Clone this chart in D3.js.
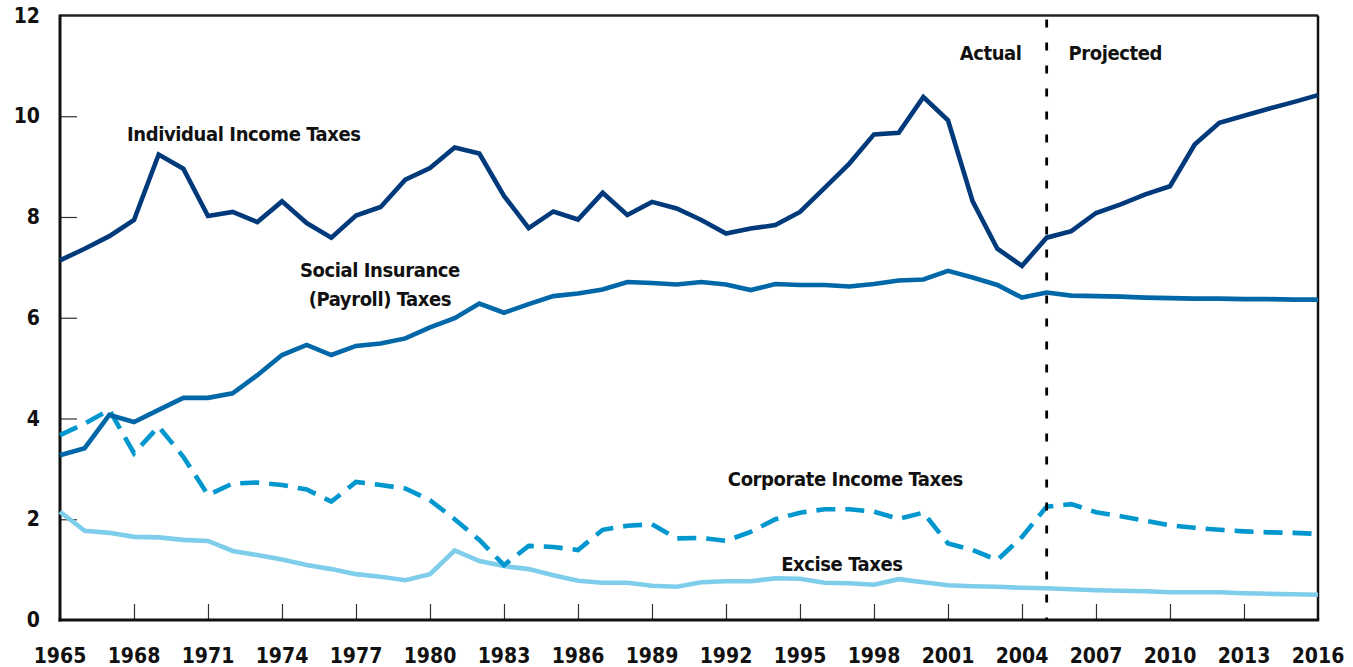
<!DOCTYPE html>
<html>
<head>
<meta charset="utf-8">
<script src="https://cdn.jsdelivr.net/npm/d3@7"></script>
<style>
  html, body { margin: 0; padding: 0; background: #fff; }
  svg { display: block; }
  text { font-family: "Liberation Sans Narrow", "DejaVu Sans Condensed", "Arial Narrow", "Liberation Sans", sans-serif; font-weight: bold; fill: #111; }
  .series-label { font-size: 20px; letter-spacing: -0.4px; }
</style>
</head>
<body>
<svg id="chart" width="1353" height="667"></svg>
<script>
// Federal revenues by source, percentage of GDP
const years = d3.range(1965, 2017);

const individualIncome = [
  7.14, 7.37, 7.62, 7.94, 9.24, 8.96, 8.02, 8.10, 7.90, 8.31,
  7.88, 7.59, 8.03, 8.20, 8.74, 8.97, 9.38, 9.26, 8.42, 7.78,
  8.11, 7.95, 8.48, 8.04, 8.30, 8.17, 7.94, 7.67, 7.77, 7.84,
  8.10, 8.58, 9.06, 9.64, 9.67, 10.38, 9.92, 8.31, 7.37, 7.03,
  7.59, 7.72, 8.08, 8.25, 8.45, 8.61, 9.44, 9.87, 10.01, 10.15,
  10.28, 10.42
];

const socialInsurance = [
  3.27, 3.41, 4.07, 3.93, 4.17, 4.41, 4.41, 4.50, 4.86, 5.26,
  5.46, 5.26, 5.44, 5.49, 5.59, 5.81, 5.99, 6.28, 6.10, 6.27,
  6.43, 6.48, 6.56, 6.71, 6.69, 6.66, 6.71, 6.66, 6.55, 6.67,
  6.65, 6.65, 6.62, 6.67, 6.74, 6.76, 6.93, 6.80, 6.65, 6.40,
  6.50, 6.44, 6.43, 6.42, 6.40, 6.39, 6.38, 6.38, 6.37, 6.37,
  6.36, 6.36
];

const corporateIncome = [
  3.67, 3.90, 4.17, 3.31, 3.84, 3.24, 2.48, 2.71, 2.73, 2.68,
  2.59, 2.35, 2.74, 2.68, 2.61, 2.38, 2.00, 1.59, 1.09, 1.47,
  1.45, 1.39, 1.79, 1.87, 1.90, 1.62, 1.63, 1.57, 1.75, 2.00,
  2.13, 2.20, 2.20, 2.15, 2.01, 2.13, 1.52, 1.39, 1.19, 1.65,
  2.25, 2.30, 2.14, 2.06, 1.97, 1.88, 1.83, 1.79, 1.76, 1.74,
  1.73, 1.71
];

const exciseTaxes = [
  2.15, 1.77, 1.73, 1.65, 1.64, 1.59, 1.57, 1.37, 1.29, 1.20,
  1.09, 1.01, 0.91, 0.86, 0.79, 0.91, 1.38, 1.17, 1.07, 1.01,
  0.89, 0.78, 0.74, 0.74, 0.68, 0.66, 0.75, 0.77, 0.77, 0.83,
  0.82, 0.74, 0.73, 0.70, 0.81, 0.75, 0.69, 0.67, 0.66, 0.64,
  0.63, 0.61, 0.59, 0.58, 0.57, 0.55, 0.55, 0.55, 0.53, 0.52,
  0.51, 0.50
];

const xTickYears = d3.range(1965, 2017, 3);
const yTickValues = [0, 2, 4, 6, 8, 10, 12];
const lastActualYear = 2005;

const seriesNames = ["Excise Taxes", "Corporate Income Taxes", "Social Insurance (Payroll) Taxes", "Individual Income Taxes"];

const svg = d3.select("#chart");
const margin = { top: 15.5, right: 35, bottom: 47, left: 60 };
const W = 1353, H = 667;

const x = d3.scaleLinear().domain([1965, 2016]).range([margin.left, W - margin.right]);
const y = d3.scaleLinear().domain([0, 12]).range([H - margin.bottom, margin.top]);

// inner tick marks on the x axis
const xAxis = d3.axisTop(x)
  .tickValues(xTickYears.filter(d => d > 1965 && d < 2016))
  .tickSize(16).tickFormat("");
svg.append("g")
  .attr("transform", `translate(0,${y(0)})`)
  .call(xAxis)
  .call(g => g.select(".domain").remove())
  .call(g => g.selectAll(".tick line").attr("stroke", "#333").attr("stroke-width", 1.2));

// inner tick marks on the y axis
const yAxis = d3.axisRight(y)
  .tickValues(yTickValues.filter(d => d > 0 && d < 12))
  .tickSize(17).tickFormat("");
svg.append("g")
  .attr("transform", `translate(${x(1965)},0)`)
  .call(yAxis)
  .call(g => g.select(".domain").remove())
  .call(g => g.selectAll(".tick line").attr("stroke", "#333").attr("stroke-width", 1.2));

// tick labels
svg.append("g").selectAll("text")
  .data(xTickYears)
  .join("text")
  .attr("x", d => x(d))
  .attr("y", y(0) + 43)
  .attr("text-anchor", "middle")
  .style("font-size", "21px")
  .text(d => d);

svg.append("g").selectAll("text")
  .data(yTickValues)
  .join("text")
  .attr("x", x(1965) - 20)
  .attr("y", d => y(d) + 7)
  .attr("text-anchor", "end")
  .style("font-size", "21px")
  .text(d => d);

// frame
svg.append("line")
  .attr("x1", x(1965)).attr("x2", x(2016))
  .attr("y1", y(12)).attr("y2", y(12))
  .attr("stroke", "#222").attr("stroke-width", 2.5);
svg.append("line")
  .attr("x1", x(2016)).attr("x2", x(2016))
  .attr("y1", y(12)).attr("y2", y(0))
  .attr("stroke", "#111").attr("stroke-width", 2.5);
svg.append("line")
  .attr("x1", x(1965)).attr("x2", x(1965))
  .attr("y1", y(12) - 1).attr("y2", y(0) + 1.5)
  .attr("stroke", "#111").attr("stroke-width", 3);
svg.append("line")
  .attr("x1", x(1965) - 1.5).attr("x2", x(2016) + 1.2)
  .attr("y1", y(0)).attr("y2", y(0))
  .attr("stroke", "#111").attr("stroke-width", 3);

// series lines
const line = d3.line().x((d, i) => x(years[i])).y(d => y(d));

const series = [
  { name: seriesNames[0], values: exciseTaxes, color: "#7ecdeb", dash: null },
  { name: seriesNames[1], values: corporateIncome, color: "#0097cf", dash: "19,10" },
  { name: seriesNames[2], values: socialInsurance, color: "#0067a8", dash: null },
  { name: seriesNames[3], values: individualIncome, color: "#003a7b", dash: null }
];

svg.append("g").selectAll("path")
  .data(series)
  .join("path")
  .attr("d", d => line(d.values))
  .attr("fill", "none")
  .attr("stroke", d => d.color)
  .attr("stroke-width", 4.6)
  .attr("stroke-dasharray", d => d.dash);

// actual / projected divider
svg.append("line")
  .attr("x1", x(lastActualYear)).attr("x2", x(lastActualYear))
  .attr("y1", y(12)).attr("y2", y(0))
  .attr("stroke", "#000").attr("stroke-width", 2.8)
  .attr("stroke-dasharray", "8,15")
  .attr("stroke-dashoffset", -4);

// labels
const addLabel = (text, year, py, anchor) =>
  svg.append("text")
    .attr("class", "series-label")
    .attr("x", x(year)).attr("y", py)
    .attr("text-anchor", anchor)
    .text(text);

addLabel("Actual", 2002.73, 60, "middle");
addLabel("Projected", 2007.78, 60, "middle");
addLabel("Individual Income Taxes", 1967.72, 141, "start");
addLabel("Social Insurance", 1977.97, 277, "middle");
addLabel("(Payroll) Taxes", 1977.97, 306, "middle");
addLabel("Corporate Income Taxes", 1996.84, 486, "middle");
addLabel("Excise Taxes", 1996.7, 571, "middle");
</script>
</body>
</html>
